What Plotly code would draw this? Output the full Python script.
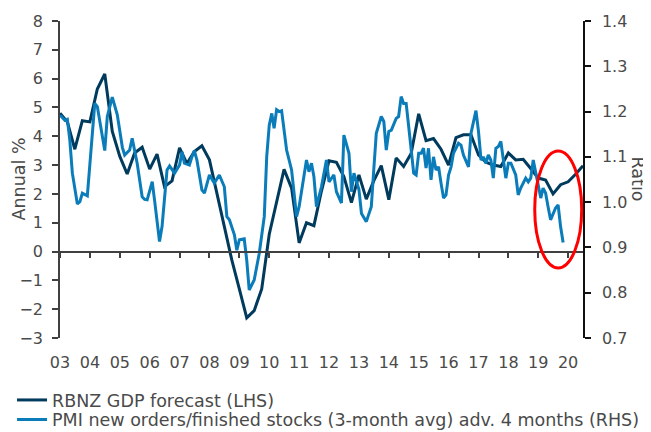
import pandas as pd
import plotly.graph_objects as go

# RBNZ GDP forecast (LHS), quarterly from 2003 Q1
gdp_start = "2003-01-01"
gdp_values = [4.8, 4.5, 3.55, 4.54, 4.5, 5.64, 6.16, 4.17, 3.3, 2.69,
              3.42, 3.62, 2.86, 3.38, 2.25, 2.45, 3.6, 3.05, 3.47, 3.67,
              3.18, 2.0, 0.8, -0.3, -1.3, -2.3, -2.05, -1.3, 0.6, 1.7,
              2.85, 2.2, 0.3, 1.0, 0.9, 2.1, 3.15, 3.1, 2.6, 1.7,
              2.66, 1.82, 2.45, 2.98, 1.8, 3.25, 2.95, 3.4, 4.78, 3.85,
              3.92, 3.55, 3.0, 3.95, 4.05, 4.05, 3.35, 3.1, 3.0, 2.95,
              3.42, 3.18, 3.2, 2.88, 2.55, 2.48, 2.0, 2.32, 2.42, 2.68, 2.98]
gdp_dates = pd.date_range(gdp_start, periods=len(gdp_values), freq="QS")

# PMI new orders / finished stocks ratio (RHS), monthly, advanced 4 months
pmi_dates = [
    "2003-01", "2003-03", "2003-04", "2003-05", "2003-06", "2003-08", "2003-09", "2003-10", "2003-12",
    "2004-01", "2004-03", "2004-04", "2004-07", "2004-08", "2004-10", "2004-12",
    "2005-02", "2005-03", "2005-05", "2005-06", "2005-08", "2005-10", "2005-11", "2005-12",
    "2006-02", "2006-03", "2006-05", "2006-06", "2006-08", "2006-09", "2006-11",
    "2007-01", "2007-02", "2007-03", "2007-05", "2007-06", "2007-07", "2007-08", "2007-10", "2007-11",
    "2008-01", "2008-03", "2008-05", "2008-07", "2008-08", "2008-09", "2008-11", "2008-12",
    "2009-01", "2009-03", "2009-04", "2009-05", "2009-07", "2009-09", "2009-11", "2009-12",
    "2010-01", "2010-02", "2010-03", "2010-04", "2010-05", "2010-06", "2010-07", "2010-08", "2010-10", "2010-12",
    "2011-01", "2011-03", "2011-04", "2011-05", "2011-06", "2011-07", "2011-08", "2011-10", "2011-12",
    "2012-01", "2012-03", "2012-04", "2012-06", "2012-07", "2012-09", "2012-10", "2012-11",
    "2013-01", "2013-02", "2013-04", "2013-06", "2013-07", "2013-08", "2013-10", "2013-11", "2013-12",
    "2014-01", "2014-02", "2014-04", "2014-05", "2014-06", "2014-07", "2014-08", "2014-09", "2014-10", "2014-11", "2014-12",
    "2015-01", "2015-02", "2015-03", "2015-04", "2015-05", "2015-06", "2015-07", "2015-08", "2015-09", "2015-10", "2015-11", "2015-12",
    "2016-01", "2016-02", "2016-03", "2016-05", "2016-06", "2016-07", "2016-09", "2016-10", "2016-12",
    "2017-01", "2017-02", "2017-03", "2017-04", "2017-05", "2017-06", "2017-07", "2017-08", "2017-09", "2017-10", "2017-11", "2017-12",
    "2018-01", "2018-02", "2018-04", "2018-05", "2018-06", "2018-08", "2018-09", "2018-10", "2018-11", "2018-12",
    "2019-01", "2019-02", "2019-03", "2019-04", "2019-05", "2019-06", "2019-08", "2019-09", "2019-10", "2019-11",
]
pmi_values = [
    1.192, 1.181, 1.183, 1.137, 1.064, 0.996, 1.001, 1.020, 1.014,
    1.078, 1.218, 1.211, 1.114, 1.189, 1.232, 1.193,
    1.121, 1.104, 1.115, 1.141, 1.086, 1.012, 1.006, 1.005,
    1.045, 1.005, 0.913, 0.946, 1.071, 1.080, 1.064,
    1.082, 1.111, 1.086, 1.082, 1.100, 1.114, 1.093, 1.027, 1.020,
    1.060, 1.042, 1.060, 1.034, 0.968, 0.961, 0.928, 0.894,
    0.917, 0.919, 0.872, 0.806, 0.828, 0.887, 0.968, 1.100,
    1.170, 1.196, 1.163, 1.204, 1.200, 1.202, 1.159, 1.115, 1.071, 0.968,
    0.990, 1.064, 1.093, 1.067, 1.086, 1.056, 0.990, 1.034, 1.093,
    1.045, 1.060, 1.023, 0.998, 1.148, 1.108, 1.023, 1.064,
    1.028, 0.975, 0.957, 0.990, 1.071, 1.152, 1.189, 1.178, 1.115,
    1.156, 1.159, 1.185, 1.189, 1.233, 1.218, 1.218, 1.167, 1.108, 1.064, 1.060,
    1.108, 1.108, 1.119, 1.075, 1.119, 1.049, 1.100, 1.071, 1.078, 1.042, 1.009, 1.016,
    1.060, 1.078, 1.108, 1.130, 1.126, 1.104, 1.078, 1.152, 1.202,
    1.156, 1.093, 1.100, 1.086, 1.104, 1.093, 1.053, 1.119, 1.123, 1.134, 1.093, 1.053,
    1.086, 1.086, 1.060, 1.016, 1.031, 1.053, 1.045, 1.053, 1.093, 1.064,
    1.038, 1.009, 1.031, 1.020, 0.990, 0.961, 0.987, 0.994, 0.946, 0.911,
]

gdp_name = "RBNZ GDP forecast (LHS)"
pmi_name = "PMI new orders/finished stocks (3-month avg) adv. 4 months (RHS)"
left_title = "Annual %"
right_title = "Ratio"

DARK = "#003a5c"
LIGHT = "#0a7cba"
TXT = "#4a4a4a"
FONT = "'DejaVu Sans', sans-serif"
TICK_FS = 16
TEXT_FS = 17.5

fig = go.Figure()
fig.add_trace(go.Scatter(x=gdp_dates, y=gdp_values, name=gdp_name, mode="lines",
                         line=dict(color=DARK, width=3), xaxis="x", yaxis="y",
                         legend="legend"))
fig.add_trace(go.Scatter(x=pd.to_datetime(pmi_dates), y=pmi_values, name=pmi_name, mode="lines",
                         line=dict(color=LIGHT, width=3), xaxis="x2", yaxis="y2",
                         legend="legend2"))

tickfont = dict(family=FONT, size=TICK_FS, color=TXT)
textfont = dict(family=FONT, size=TEXT_FS, color=TXT)
legend_common = dict(xanchor="left", yanchor="top", orientation="v",
                     bgcolor="rgba(0,0,0,0)", font=textfont, itemwidth=30)

xr = ["2003-01-01", "2020-07-01"]
fig.update_layout(
    width=651, height=432,
    margin=dict(l=52, r=76, t=13, b=102, autoexpand=False),
    paper_bgcolor="white", plot_bgcolor="white",
    font=dict(family=FONT, size=TICK_FS, color=TXT),
    showlegend=True,
    legend=dict(x=-0.0917, y=-0.139, **legend_common),
    legend2=dict(x=-0.0917, y=-0.2009, **legend_common),
    xaxis=dict(type="date", range=xr, dtick="M12", tick0="2003-01-01",
               tickformat="%y", showline=False, ticks="", showgrid=False,
               zeroline=False, ticklabelstandoff=13, tickfont=tickfont),
    xaxis2=dict(type="date", range=xr, dtick="M12", tick0="2003-01-01",
                matches="x", overlaying="x", anchor="free", position=3/11,
                showline=True, linecolor="#404040", linewidth=1.5,
                ticks="outside", ticklen=6, tickwidth=1.5, tickcolor="#404040",
                showticklabels=False, showgrid=False, zeroline=False),
    yaxis=dict(range=[-3, 8], dtick=1, showgrid=False, zeroline=False,
               showline=True, linecolor="#404040", linewidth=1.5,
               ticks="outside", ticklen=6, tickwidth=1.5, tickcolor="#404040",
               ticklabelstandoff=6, tickfont=tickfont),
    yaxis2=dict(range=[0.7, 1.4], dtick=0.1, tickformat=".1f",
                overlaying="y", side="right", anchor="x2",
                showgrid=False, zeroline=False,
                showline=True, linecolor="#111111", linewidth=1.5,
                ticks="outside", ticklen=6, tickwidth=1.5, tickcolor="#111111",
                ticklabelstandoff=8, tickfont=tickfont),
    annotations=[
        dict(text=left_title, xref="paper", yref="paper", x=-0.0803, y=0.5,
             xanchor="center", yanchor="middle", textangle=-90, showarrow=False,
             font=textfont),
        dict(text=right_title, xref="paper", yref="paper", x=1.107, y=0.5,
             xanchor="center", yanchor="middle", textangle=90, showarrow=False,
             font=textfont),
    ],
    shapes=[
        dict(type="circle", xref="paper", yref="paper",
             x0=0.9077, x1=0.9975, y0=0.221, y1=0.590,
             line=dict(color="red", width=3)),
    ],
)

fig.write_html("out.html")
